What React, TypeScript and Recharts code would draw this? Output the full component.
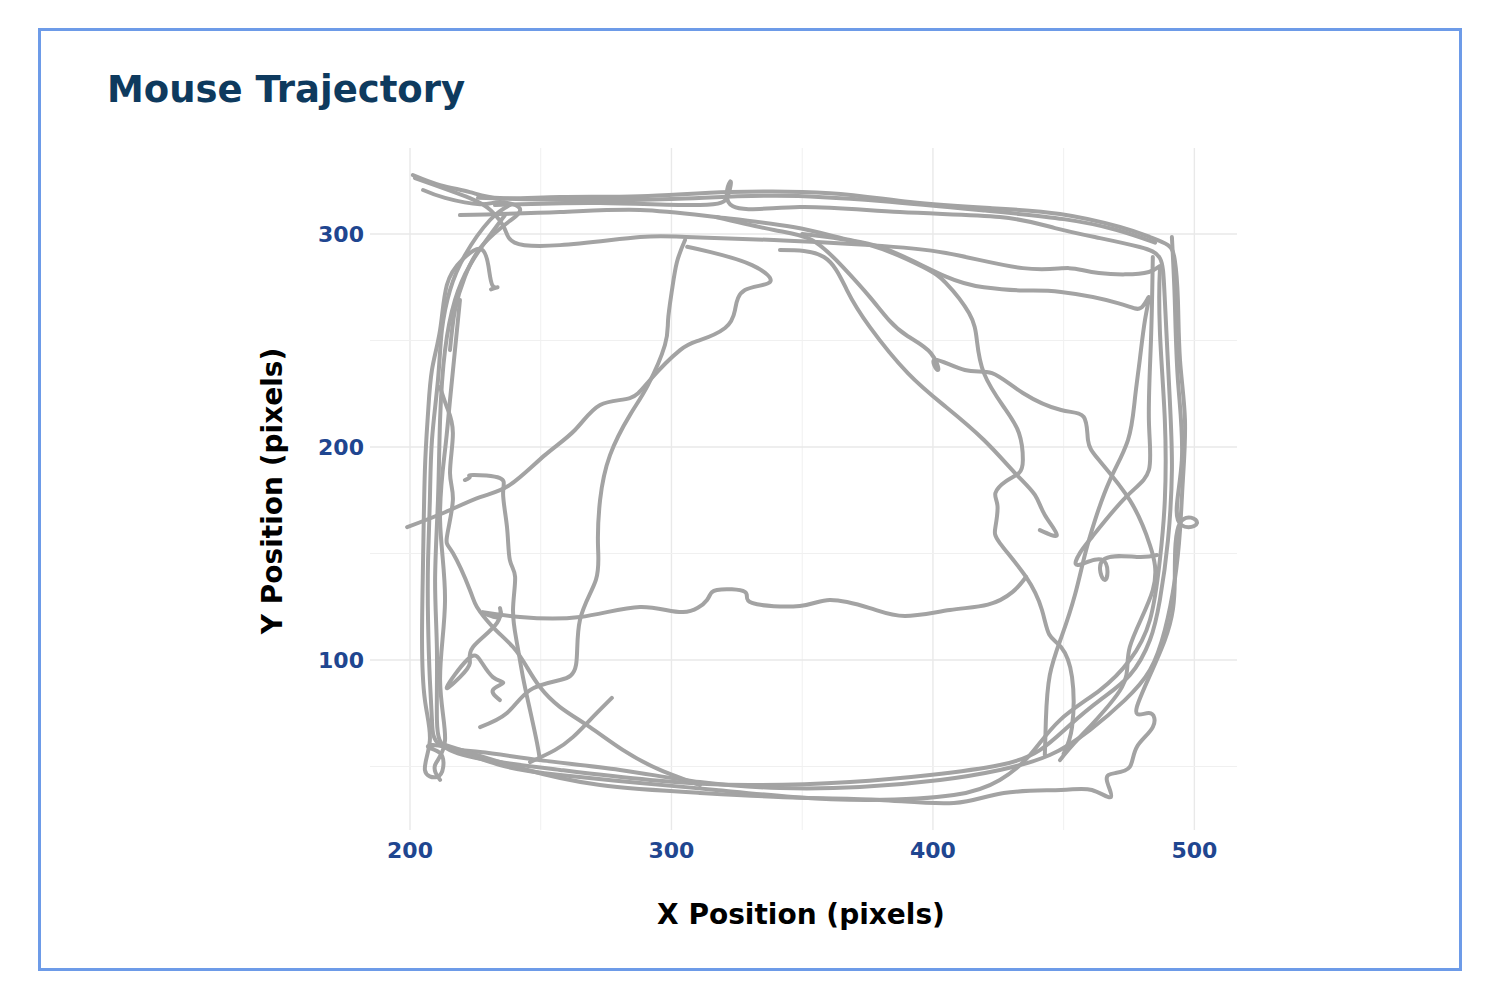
import { LineChart, Line, XAxis, YAxis, ReferenceLine } from 'recharts'

// trajectory pieces, [x, y] in pixels of the tracked arena
const lapOuter = [
  [201.1, 327.7], [211.5, 323], [222.9, 319.7], [234.4, 316.9], [257.4, 317.4], [288, 317.8], [322.4, 319.7],
  [360.6, 319.2], [391.2, 315], [421.8, 312.2], [448.6, 309.4], [471.5, 303.3], [483, 298.6], [489.9, 294.8],
  [492.5, 287.8], [493.7, 269], [494.5, 240.8], [496.4, 212.7], [495.6, 184.5], [494.5, 161], [492.5, 137.6],
  [488.7, 114.1], [483, 95.3], [473.4, 81.2], [460, 67.1], [444.7, 55.4], [425.6, 48.4], [402.7, 43.7],
  [372.1, 40.4], [341.5, 39.9], [310.9, 42.7], [280.3, 48.4], [249.7, 53], [226.8, 56.8], [211.5, 60.1],
  [208.4, 71.8], [207.6, 90.6], [206.9, 118.8], [206.9, 146.9], [207.6, 175.1], [208.4, 203.3], [210.7, 231.5],
  [212.2, 254.9], [215.3, 273.7], [221, 290.1], [230.6, 306.6], [238.2, 313.6],
]

const lapInner = [
  [232.5, 313.6], [272.7, 314.6], [310.9, 313.6], [321.6, 318], [322.4, 324.5], [323.5, 313], [349.1, 312.7],
  [387.4, 310.3], [425.6, 308], [446.7, 302.8], [463.9, 298.1], [479.1, 293.9], [486.8, 288.7], [488.7, 269],
  [490.6, 222.1], [491.4, 189.2], [489.9, 156.3], [486.8, 128.2], [483, 109.4], [475.3, 92.9], [463.9, 81.2],
  [452.4, 69.5], [440.9, 57.7], [425.6, 50.7], [398.9, 46], [368.3, 42.7], [330, 41.3], [291.8, 43.7],
  [257.4, 48.4], [234.4, 52.1], [215.3, 57.7], [210.3, 71.8], [210.3, 104.7], [209.6, 137.6], [210.7, 175.1],
  [211.5, 212.7], [213.4, 245.5], [217.2, 269], [222.9, 285.4], [230.6, 299.5], [236.3, 308.9],
]

const lapThird = [
  [201.9, 326.3], [222.9, 316.9], [231, 311], [236, 303], [240, 296], [257.4, 294.8], [288, 298.6],
  [305.6, 298.6], [339.2, 297.2], [375.9, 294.8], [405, 291.1], [434.4, 284], [452, 284], [463.5, 281.7],
  [482.6, 282.2], [486.8, 283.1], [486.8, 254.9], [488.7, 212.7], [488.7, 175.1], [486.8, 146.9], [483, 118.8],
  [475.3, 100], [463.9, 85.9], [448.6, 71.8], [437.1, 55.4], [425.6, 43.7], [408, 36.6], [375.9, 34.3],
  [346.5, 35.7], [317, 39], [288, 42.3], [257.4, 46], [234.4, 50.7], [213.4, 59.2], [206.9, 59.2], [211.5, 56.3],
  [212.7, 49.8], [210.3, 45.1], [205.7, 48.4], [207.6, 62.4], [205.7, 81.2], [204.6, 109.4], [205, 146.9],
  [205.7, 189.2], [206.9, 216], [208.4, 236.2], [211.5, 254.9], [214.1, 276.1], [220, 288], [227, 293],
  [230, 285], [231.5, 276], [233.5, 275], [231, 274],
]

const lapFourth = [
  [213.4, 60.1], [242.1, 49.3], [272.7, 41.3], [310.9, 37.6], [349.1, 35.3], [379.7, 34.3], [408, 32.9],
  [427.1, 37.6], [449, 39], [460.8, 39], [468.1, 35.7], [466.5, 43.7], [469.6, 46.9], [475.3, 49.8], [478, 59.2],
  [484.1, 68.5], [482.6, 75.1], [478, 77.9], [488.7, 109.4], [492.5, 137.6], [494.5, 164.3], [501, 164.3],
  [493.7, 165.7], [495.2, 193.9], [493.7, 231.5], [492.5, 269], [491.4, 298.6],
]

const topBundle = [
  [226, 317], [260, 316], [300, 316.5], [340, 318], [380, 315.5], [420, 311], [450, 307], [470, 302], [485, 296],
]

const hookRight = [
  [219.1, 308.9], [257.4, 310.3], [288, 311.3], [317, 308], [346.5, 303.3], [368.3, 297.2], [383.2, 292.5],
  [405, 280], [419.5, 275], [434.4, 273.5], [449, 272.8], [470.7, 267.6], [479.5, 265.3], [482.6, 270.4],
  [481.1, 259.6], [479.1, 240.8], [477.2, 222.1], [474.6, 203.3], [467.7, 184.5], [462, 165.7], [458.1, 149.3],
  [454.3, 130.5], [449.4, 111.7], [444.7, 92.9], [443.2, 71.8], [442.8, 55.4],
]

const crossLeft = [
  [198.9, 162.4], [213.4, 169.4], [226.8, 176.5], [238.2, 182.2], [251.6, 196.2], [263.1, 208], [272.7, 219.7],
  [284.1, 223], [291.8, 231.5], [303.3, 245.5], [310.9, 250.2], [320.5, 255.9], [324.3, 264.3], [328.1, 273.7],
  [337.7, 277.5], [330.8, 285.4], [315, 291.5], [306, 294],
]

const dropMiddle = [
  [305.2, 297.2], [302.1, 286.9], [300.2, 273.7], [298.7, 259.6], [297.5, 247.9], [291, 229.1], [284.1, 215],
  [276.5, 196.2], [272.7, 175.1], [271.9, 153.9], [271.1, 137.6], [265, 118.8], [263.5, 97.7], [257.4, 90.6],
  [245.9, 85.9], [237.1, 75.1], [226.8, 68.5],
]

const flatMiddle = [
  [227.9, 122.5], [242.1, 120.2], [265, 120.2], [288, 124.9], [304.4, 122.5], [313.6, 128.2], [317.4, 132.9],
  [328.1, 132], [330.8, 126.8], [349.1, 125.4], [360.6, 128.2], [375.9, 124.4], [389.3, 120.7], [406.5, 123.5],
  [421, 126], [430.5, 132], [435.6, 139],
]

const curveRight = [
  [350, 300], [375.9, 294.8], [396.2, 284.5], [405, 277], [413.8, 262.9], [416.8, 250.2], [419.5, 234.7],
  [427.1, 218.8], [432.9, 206.6], [434.4, 193.9], [432.9, 187.8], [428, 184], [423.9, 178.4], [424.7, 172.4],
  [423.9, 162.4], [425.6, 154.9], [435.6, 139], [441.7, 123.5], [444.5, 112], [449, 106.1], [453.2, 92],
  [453.2, 68.5], [450, 56],
]

const diagSpike = [
  [341.5, 292.5], [358.3, 289.2], [367.1, 273.7], [375.9, 256.3], [390.4, 234.7], [405, 218.8], [419.5, 203.3],
  [431.4, 187.8], [439, 177.5], [442.8, 168.1], [447.4, 158.7], [440.9, 161],
]

const diagLong = [
  [317, 308], [339.2, 301.9], [353.7, 297.2], [365.6, 284.5], [375.9, 270.4], [383.2, 259.6], [390.4, 252],
  [399.2, 244.1], [401.9, 236.2], [400.8, 241], [412.2, 236.2], [422.6, 234.7], [434.4, 225.4], [449, 217.4],
  [457.7, 214.1], [459.3, 203.3], [463.5, 193.9], [475.3, 175.1], [483, 154], [484.1, 132.9], [475.3, 106.1],
  [472.3, 87.3], [456.2, 63.8], [448.6, 53],
]

const edgeRight = [
  [484.1, 289.2], [483.4, 250.2], [482.6, 212.7], [482.6, 189.2], [473.8, 176.5], [460.8, 157.7], [456.2, 150.2],
  [455.4, 144.6], [465, 146.9], [465.8, 137.6], [465, 146.9], [478, 148.4], [485.7, 149.3],
]

const diagLeft = [
  [211.5, 228.2], [214.1, 218.8], [216.4, 206.6], [215.3, 187.8], [216.4, 175.1], [214.1, 157.7], [216.4, 150.2],
  [222.9, 132.9], [225.6, 124.9], [231.7, 115.5], [239.4, 106.1], [244.7, 96.7], [249.7, 87.3], [257.4, 77.9],
  [268.8, 68.5], [281.5, 57.7], [295.6, 48.4], [310.9, 41.3],
]

const dropLeft = [
  [221, 184.5], [222.9, 185.9], [224.1, 186.9], [234.4, 185.4], [235.6, 178.4], [237.1, 162.4], [238.2, 146.9],
  [240.2, 139], [239.4, 123.5], [240.9, 108], [243.2, 92], [245.9, 76.5], [248.6, 61], [249.7, 53],
]

const squiggle = [
  [227.9, 122.1], [234.4, 120.2], [234.4, 124.4], [233.3, 117.4], [224.1, 106.1], [222.9, 98.6], [219.1, 92],
  [214.1, 87.3], [221.8, 100], [226.8, 100], [231.7, 92], [235.6, 89.2], [231.7, 85.9], [234.4, 81.2],
]

const stub = [[277.2, 82.2], [268.8, 71.8], [262.3, 63.8], [255.4, 57.7], [245.9, 52.1]]

const cornerKnot = [
  [205, 320.7], [213.4, 317], [226.8, 314], [234.4, 315], [242, 312], [238, 306], [232, 300],
  [226, 292], [221, 280], [217.2, 264.3], [215.3, 245.5],
]

const edgeLeft = [
  [219.1, 269], [215.3, 222.1], [213.4, 198.6], [211.5, 165.7], [213.4, 128.2], [211.5, 90.6], [213.4, 62.4],
  [209.6, 50.7], [211.5, 43.7],
]

const strokes = [
  lapOuter, lapInner, lapThird, lapFourth, topBundle, hookRight, crossLeft, dropMiddle, flatMiddle, curveRight,
  diagSpike, diagLong, edgeRight, diagLeft, dropLeft, squiggle, stub, cornerKnot, edgeLeft,
]

const xTicks = [200, 300, 400, 500]
const yTicks = [100, 200, 300]
const xMinor = [250, 350, 450]
const yMinor = [50, 150, 250]

const tickStyle = { fill: '#1f4690', fontSize: 22, fontWeight: 700, fontFamily: 'DejaVu Sans' }

export default function App() {
  return (
    <div style={{ position: 'absolute', left: 0, top: 0, width: 1500, height: 1000, background: '#fff', fontFamily: 'DejaVu Sans' }}>
      <div style={{ position: 'absolute', left: 38, top: 28, width: 1424, height: 943, boxSizing: 'border-box', border: '3px solid #6d9be8' }} />
      <div style={{ position: 'absolute', left: 107, top: 71, fontSize: 37, lineHeight: 1, fontWeight: 700, color: '#0e3a5e' }}>
        Mouse Trajectory
      </div>
      <div style={{ position: 'absolute', left: 0, top: 0 }}>
        <LineChart width={1500} height={1000} margin={{ top: 148, right: 263, bottom: 130, left: 310 }}>
          {xTicks.concat(xMinor).map(v => (
            <ReferenceLine key={'x' + v} x={v} stroke={xMinor.includes(v) ? '#f0f0f0' : '#e9e9e9'} strokeWidth={xMinor.includes(v) ? 1 : 1.4} />
          ))}
          {yTicks.concat(yMinor).map(v => (
            <ReferenceLine key={'y' + v} y={v} stroke={yMinor.includes(v) ? '#f0f0f0' : '#e9e9e9'} strokeWidth={yMinor.includes(v) ? 1 : 1.4} />
          ))}
          <XAxis type="number" dataKey="x" domain={[184.7, 516.3]} ticks={xTicks} allowDataOverflow
            axisLine={false} tickLine={false} tickSize={0} tickMargin={12} height={40} tick={tickStyle} />
          <YAxis type="number" dataKey="y" domain={[20.2, 340.4]} ticks={yTicks} allowDataOverflow
            axisLine={false} tickLine={false} tickSize={0} tickMargin={6} width={60} tick={tickStyle} />
          {strokes.map((s, i) => (
            <Line key={i} data={s.map(([x, y]) => ({ x, y }))} dataKey="y" type="natural" stroke="#a3a3a3"
              strokeWidth={4} strokeLinejoin="round" strokeLinecap="round" dot={false} activeDot={false} isAnimationActive={false} />
          ))}
        </LineChart>
      </div>
      <div style={{ position: 'absolute', left: 601, top: 901, width: 400, textAlign: 'center', fontSize: 28, lineHeight: 1, fontWeight: 700, color: '#000' }}>
        X Position (pixels)
      </div>
      <div style={{ position: 'absolute', left: 73, top: 477, width: 400, height: 28, textAlign: 'center', fontSize: 28, lineHeight: 1, fontWeight: 700, color: '#000', transform: 'rotate(-90deg)' }}>
        Y Position (pixels)
      </div>
    </div>
  )
}
